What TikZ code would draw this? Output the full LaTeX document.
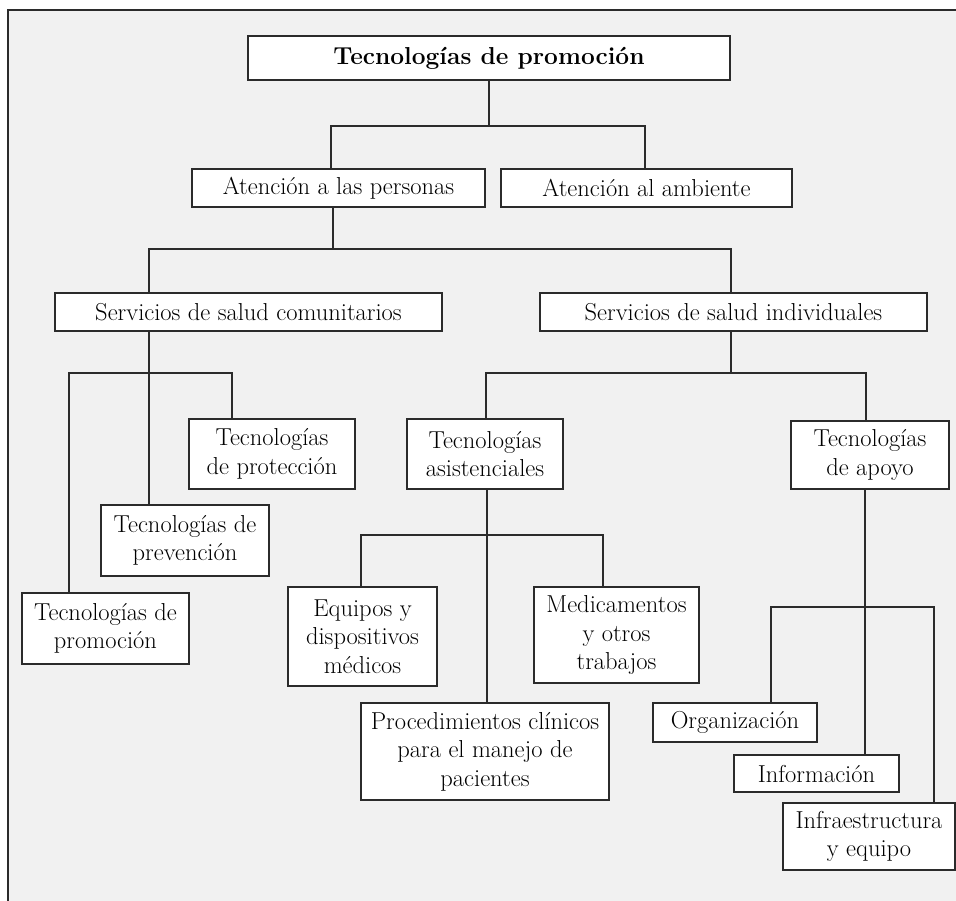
\documentclass[tikz,border=0pt]{standalone}
\usepackage{fontspec}
\usepackage{tikz}
\usetikzlibrary{calc,positioning}
\definecolor{fondo}{HTML}{F1F1F1}
\definecolor{borde}{HTML}{2B2B2B}

\begin{document}
\begin{tikzpicture}[x=1pt, y=-1pt,
  caja/.style={draw=borde, line width=1.5pt, fill=white, inner sep=0pt, outer sep=0pt,
    align=center, font=\fontsize{24.5}{28.5}\selectfont},
  rama/.style={draw=borde, line width=1.5pt}]
\clip (0,0) rectangle (956,901);
\draw[borde, line width=2pt, fill=fondo] (8,10) rectangle (990,930);

% --- cajas ---
\node[caja, minimum width=482, minimum height=44] (raiz) at (489,58) {\textbf{Tecnologías de promoción}};
\node[caja, minimum width=293, minimum height=38] (personas) at (338.5,188) {Atención a las personas};
\node[caja, minimum width=291, minimum height=38] (ambiente) at (646.5,188) {Atención al ambiente};
\node[caja, minimum width=387, minimum height=38] (comunit) at (248.5,312) {Servicios de salud comunitarios};
\node[caja, minimum width=387, minimum height=38] (individ) at (733.5,312) {Servicios de salud individuales};
\node[caja, minimum width=166, minimum height=70] (proteccion) at (272,454) {Tecnologías\\de protección};
\node[caja, minimum width=168, minimum height=71] (prevencion) at (185,540.5) {Tecnologías de\\prevención};
\node[caja, minimum width=167, minimum height=71] (promocion) at (105.5,628.5) {Tecnologías de\\promoción};
\node[caja, minimum width=156, minimum height=70] (asist) at (485,454) {Tecnologías\\asistenciales};
\node[caja, minimum width=158, minimum height=68] (apoyo) at (870,455) {Tecnologías\\de apoyo};
\node[caja, minimum width=149, minimum height=99] (equipos) at (362.5,636.5) {Equipos y\\dispositivos\\médicos};
\node[caja, minimum width=165, minimum height=96] (medic) at (616.5,635) {Medicamentos\\y otros\\trabajos};
\node[caja, minimum width=248, minimum height=97] (proced) at (485,751.5) {Procedimientos clínicos\\para el manejo de\\pacientes};
\node[caja, minimum width=164, minimum height=39] (organiz) at (735,722.5) {Organización};
\node[caja, minimum width=165, minimum height=37] (inform) at (816.5,773.5) {Información};
\node[caja, minimum width=172, minimum height=67] (infra) at (869,836.5) {Infraestructura\\y equipo};

% --- ramas ---
\coordinate (c1) at (489,126); \coordinate (c1i) at (331,126); \coordinate (c1d) at (645,126);
\draw[rama] (raiz) -- (c1);
\draw[rama] (c1i |- personas.north) -- (c1i) -- (c1d) -- (c1d |- ambiente.north);

\coordinate (c2) at (333,249); \coordinate (c2i) at (149,249); \coordinate (c2d) at (731,249);
\draw[rama] (c2 |- personas.south) -- (c2);
\draw[rama] (c2i |- comunit.north) -- (c2i) -- (c2d) -- (c2d |- individ.north);

\coordinate (c3) at (149,373); \coordinate (c3i) at (69,373); \coordinate (c3d) at (232,373);
\draw[rama] (c3 |- comunit.south) -- (c3) -- (c3 |- prevencion.north);
\draw[rama] (c3i |- promocion.north) -- (c3i) -- (c3d) -- (c3d |- proteccion.north);

\coordinate (c4) at (731,373); \coordinate (c4i) at (486,373); \coordinate (c4d) at (866,373);
\draw[rama] (c4 |- individ.south) -- (c4);
\draw[rama] (c4i |- asist.north) -- (c4i) -- (c4d) -- (c4d |- apoyo.north);

\coordinate (c5) at (487,535); \coordinate (c5i) at (361,535); \coordinate (c5d) at (603,535);
\draw[rama] (c5 |- asist.south) -- (c5 |- proced.north);
\draw[rama] (c5i |- equipos.north) -- (c5i) -- (c5d) -- (c5d |- medic.north);

\coordinate (c6) at (865,607); \coordinate (c6i) at (771,607); \coordinate (c6d) at (934,607);
\draw[rama] (c6 |- apoyo.south) -- (c6 |- inform.north);
\draw[rama] (c6i |- organiz.north) -- (c6i) -- (c6d) -- (c6d |- infra.north);
\end{tikzpicture}
\end{document}
